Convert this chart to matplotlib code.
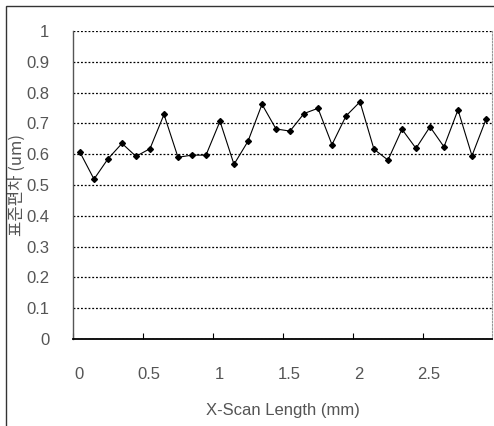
import numpy as np
import matplotlib
matplotlib.use('Agg')
import matplotlib.pyplot as plt
import matplotlib.transforms as mtransforms
from matplotlib.patches import Rectangle

# scan positions (mm) and std deviation values (um)
x_pos = [0.05, 0.15, 0.25, 0.35, 0.45, 0.55, 0.65, 0.75, 0.85, 0.95,
         1.05, 1.15, 1.25, 1.35, 1.45, 1.55, 1.65, 1.75, 1.85, 1.95,
         2.05, 2.15, 2.25, 2.35, 2.45, 2.55, 2.65, 2.75, 2.85, 2.95]
std_dev = [0.606, 0.519, 0.585, 0.635, 0.593, 0.618, 0.729, 0.590, 0.597, 0.597,
           0.707, 0.567, 0.642, 0.762, 0.682, 0.675, 0.732, 0.749, 0.631, 0.724,
           0.770, 0.616, 0.581, 0.681, 0.619, 0.689, 0.624, 0.744, 0.595, 0.713]
x_ticks = [0, 0.5, 1, 1.5, 2, 2.5]
x_tick_labels = ['0', '0.5', '1', '1.5', '2', '2.5']
y_ticks = [0, 0.1, 0.2, 0.3, 0.4, 0.5, 0.6, 0.7, 0.8, 0.9, 1]
y_tick_labels = ['0', '0.1', '0.2', '0.3', '0.4', '0.5', '0.6', '0.7', '0.8', '0.9', '1']

plt.rcParams['font.family'] = ['Liberation Sans', 'DejaVu Sans']

fig = plt.figure(figsize=(4.94, 4.26), dpi=100)
ax = fig.add_axes([73/494, 1 - 339/426, 419/494, 308/426])

ax.plot(x_pos, std_dev, color='black', lw=0.8, marker='D', ms=3.0,
        markerfacecolor='black', markeredgecolor='black', zorder=3)

ax.set_xlim(0, 2.993)
ax.set_ylim(0, 1)
ax.set_xticks(x_ticks)
ax.set_xticklabels(x_tick_labels)
ax.set_yticks(y_ticks)
ax.set_yticklabels(y_tick_labels)

ax.grid(axis='y', color='black', linestyle=(0, (1.5, 1.5)), lw=0.9)
ax.set_axisbelow(True)

ax.tick_params(axis='x', direction='in', length=4, width=0.8, pad=20,
               labelsize=12, labelcolor='#555555')
ax.tick_params(axis='y', direction='out', length=0, pad=17,
               labelsize=12, labelcolor='#555555')
# labels in the scan sit a bit right of the tick marks
offset = mtransforms.ScaledTranslation(6/100, 0, fig.dpi_scale_trans)
for lab in ax.get_xticklabels():
    lab.set_transform(lab.get_transform() + offset)

ax.spines['top'].set_visible(False)
ax.spines['right'].set_color('#999999')
ax.spines['right'].set_linestyle((0, (1.5, 1.5)))
ax.spines['left'].set_color('#555555')
ax.spines['left'].set_linewidth(1.0)
ax.spines['bottom'].set_linewidth(1.3)

ax.set_xlabel('X-Scan Length (mm)', fontsize=12, color='#555555', labelpad=15)
ax.set_ylabel('표준편차 (um)', family=['Noto Sans CJK KR', 'Liberation Sans'],
              fontsize=12, color='#555555')
ax.yaxis.set_label_coords(-47/419, 0.50)

# outer chart frame (cropped at right and bottom)
frame = Rectangle((6/494, -0.1), 1.2, 1 - 6/426 + 0.1, transform=fig.transFigure,
                  fill=False, edgecolor='#333333', lw=1.0)
fig.patches.append(frame)

fig.savefig('out.png', dpi=100)
